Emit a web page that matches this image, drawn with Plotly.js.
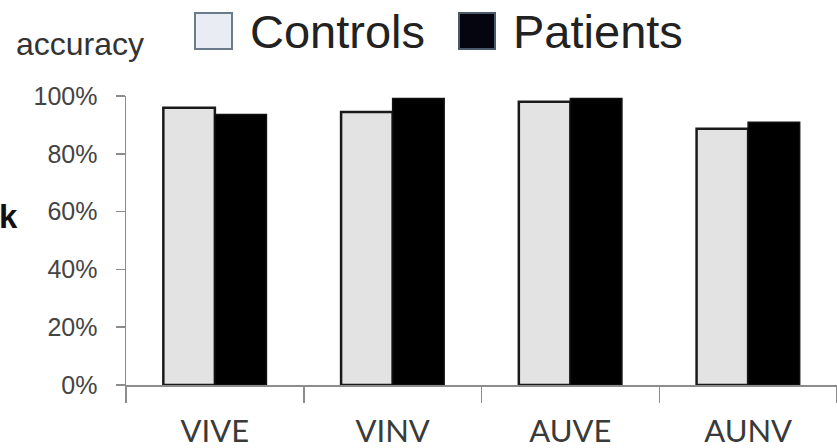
<!DOCTYPE html>
<html>
<head>
<meta charset="utf-8">
<script src="https://cdn.plot.ly/plotly-3.0.1.min.js"></script>
<style>html,body{margin:0;padding:0;background:#fff;}#chart{width:837px;height:448px;}</style>
</head>
<body>
<div id="chart"></div>
<script>
var categories = ["VIVE", "VINV", "AUVE", "AUNV"];
var controls = [0.959, 0.945, 0.980, 0.887];
var patients = [0.936, 0.991, 0.991, 0.909];
var yTickVals = [0, 0.2, 0.4, 0.6, 0.8, 1.0];
var yTickText = ["0%", "20%", "40%", "60%", "80%", "100%"];

var L = 126, R = 837, T = 96, B = 385;
function px(x){ return (x - L) / (R - L); }
function py(y){ return (B - y) / (B - T); }

var traces = [
  {type:"bar", name:"Controls", x:categories, y:controls,
   marker:{color:"#e3e3e3", line:{color:"#1a1a1a", width:2.5}}, hoverinfo:"none"},
  {type:"bar", name:"Patients", x:categories, y:patients,
   marker:{color:"#000000", line:{color:"#111111", width:1.5}}, hoverinfo:"none"}
];

var layout = {
  width:837, height:448,
  margin:{l:L, r:837-R, t:T, b:448-B, pad:0},
  paper_bgcolor:"#ffffff", plot_bgcolor:"#ffffff",
  showlegend:false,
  barmode:"group", bargap:0.42, bargroupgap:0,
  xaxis:{type:"category", showline:true, linecolor:"#8c8c8c", linewidth:1.5,
    ticks:"outside", tickson:"boundaries", ticklen:16, tickcolor:"#8c8c8c", tickwidth:1.5,
    showgrid:false, zeroline:false,
    tickfont:{family:"Lato, sans-serif", size:31, color:"#3a3a3a"}, ticklabelstandoff:18},
  yaxis:{range:[0,1], showline:true, linecolor:"#8c8c8c", linewidth:1.5,
    ticks:"outside", ticklen:9, tickcolor:"#8c8c8c", tickwidth:1.5,
    tickvals:yTickVals, ticktext:yTickText, showgrid:false, zeroline:false,
    tickfont:{family:"Liberation Sans, Arial, sans-serif", size:25, color:"#444444"},
    ticklabelstandoff:13},
  shapes:[
    {type:"rect", xref:"paper", yref:"paper", x0:px(195), x1:px(232), y0:py(49), y1:py(13),
     fillcolor:"#e9edf3", line:{color:"#6b7b8c", width:2}},
    {type:"rect", xref:"paper", yref:"paper", x0:px(459), x1:px(495), y0:py(49), y1:py(13),
     fillcolor:"#05050f", line:{color:"#4a5a6a", width:2}}
  ],
  annotations:[
    {xref:"paper", yref:"paper", x:px(248), y:py(31), xanchor:"left", yanchor:"middle",
     text:"Controls", showarrow:false, font:{family:"Liberation Sans, Arial, sans-serif", size:47, color:"#222222"}},
    {xref:"paper", yref:"paper", x:px(511), y:py(31), xanchor:"left", yanchor:"middle",
     text:"Patients", showarrow:false, font:{family:"Liberation Sans, Arial, sans-serif", size:47, color:"#222222"}},
    {xref:"paper", yref:"paper", x:px(14), y:py(44), xanchor:"left", yanchor:"middle",
     text:"accuracy", showarrow:false, font:{family:"Liberation Sans, Arial, sans-serif", size:32, color:"#333333"}},
    {xref:"paper", yref:"paper", x:px(-3), y:py(216), xanchor:"left", yanchor:"middle",
     text:"<b>k</b>", showarrow:false, font:{family:"Liberation Sans, Arial, sans-serif", size:33, color:"#111111"}}
  ]
};

Plotly.newPlot("chart", traces, layout, {staticPlot:true, displayModeBar:false});
</script>
</body>
</html>
